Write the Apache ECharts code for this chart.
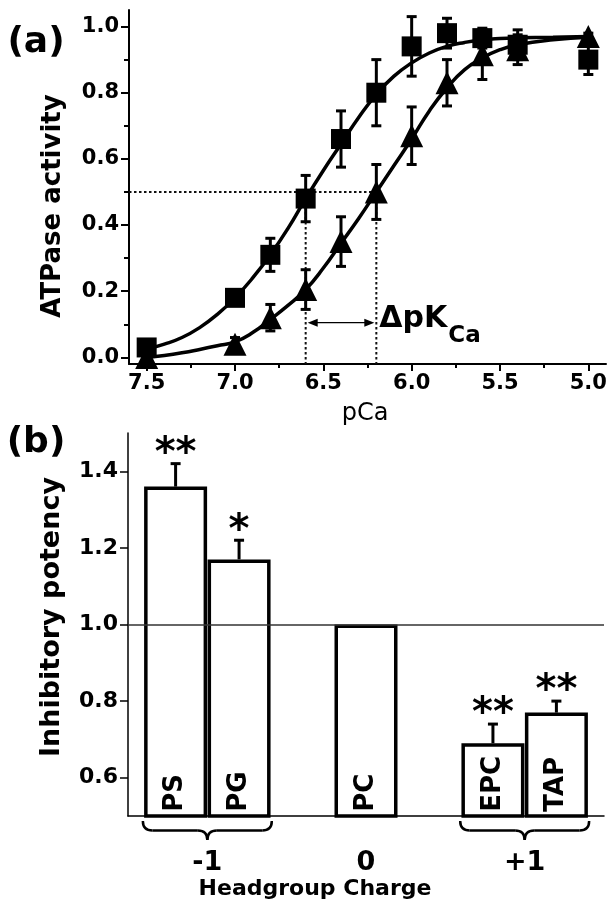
<!DOCTYPE html>
<html><head><meta charset="utf-8">
<script src="https://cdn.jsdelivr.net/npm/echarts@6/dist/echarts.min.js"></script>
<style>html,body{margin:0;padding:0;background:#fff}#c{width:614px;height:916px}</style>
</head><body><div id="c"></div>
<script>
// ---------- Panel (a) data ----------
const pCa = [7.5, 7.0, 6.8, 6.6, 6.4, 6.2, 6.0, 5.8, 5.6, 5.4, 5.0];
const ctrlMean = [0.03, 0.18, 0.31, 0.48, 0.66, 0.80, 0.94, 0.98, 0.965, 0.945, 0.90];
const ctrlErr  = [0.02, 0.02, 0.05, 0.07, 0.085, 0.10, 0.09, 0.045, 0.03, 0.045, 0.045];
const lipMean  = [0.00, 0.04, 0.12, 0.205, 0.35, 0.50, 0.67, 0.83, 0.915, 0.93, 0.97];
const lipErr   = [0.01, 0.02, 0.04, 0.06, 0.075, 0.083, 0.087, 0.07, 0.075, 0.045, 0.01];
const fitPCa  = [7.5,7.4,7.3,7.2,7.1,7.0,6.9,6.8,6.7,6.6,6.5,6.4,6.3,6.2,6.1,6.0,5.9,5.8,5.7,5.6,5.5,5.4,5.2,5.0];
const ctrlFit = [0.025,0.04,0.06,0.09,0.13,0.18,0.24,0.31,0.39,0.48,0.565,0.645,0.725,0.795,0.85,0.89,0.92,0.94,0.952,0.96,0.964,0.966,0.968,0.97];
const lipFit  = [0.0,0.006,0.014,0.024,0.035,0.047,0.075,0.115,0.157,0.205,0.27,0.345,0.42,0.50,0.58,0.66,0.745,0.815,0.87,0.905,0.93,0.945,0.96,0.968];
const halfPCa = [6.6, 6.2];
const halfLevel = 0.5;
const arrowLevel = 0.105;
const xTicksA = [7.5, 7.0, 6.5, 6.0, 5.5, 5.0];
const xMinorA = [7.25, 6.75, 6.25, 5.75, 5.25];
const yTicksA = [0, 0.2, 0.4, 0.6, 0.8, 1.0];
const yMinorA = [0.1, 0.3, 0.5, 0.7, 0.9];
const xRangeA = [4.9, 7.6];
const yRangeA = [-0.02, 1.05];

// ---------- Panel (b) data ----------
const lipids = ['PS', 'PG', 'PC', 'EPC', 'TAP'];
const lipidSlot = [0, 1, 3, 5, 6];
const potency = [1.36, 1.17, 1.00, 0.69, 0.77];
const potencyErr = [0.06, 0.05, 0, 0.05, 0.03];
const signif = ['**', '*', '', '**', '**'];
const chargeLabels = ['-1', '0', '+1'];
const chargeFrom = [0, 3, 5];
const chargeTo = [1, 3, 6];
const yTicksB = [0.6, 0.8, 1.0, 1.2, 1.4];
const xRangeB = [-0.75, 6.75];
const yRangeB = [0.5, 1.5];

const FF = '"DejaVu Sans"';
const chart = echarts.init(document.getElementById('c'), null, {renderer: 'canvas'});

function errRender(params, api) {
  const x = api.value(0), lo = api.value(1), hi = api.value(2);
  const p1 = api.coord([x, lo]), p2 = api.coord([x, hi]);
  const cap = 5, st = {stroke: '#000', lineWidth: 3};
  return {type: 'group', children: [
    {type: 'line', shape: {x1: p1[0], y1: p1[1], x2: p2[0], y2: p2[1]}, style: st},
    {type: 'line', shape: {x1: p1[0]-cap, y1: p1[1], x2: p1[0]+cap, y2: p1[1]}, style: st},
    {type: 'line', shape: {x1: p2[0]-cap, y1: p2[1], x2: p2[0]+cap, y2: p2[1]}, style: st}
  ]};
}

const mctx = document.createElement('canvas').getContext('2d');

function annoRender(params, api) {
  const xa = halfPCa[0], xb = halfPCa[1];
  const pL = api.coord([xRangeA[1], halfLevel]);
  const pA = api.coord([xa, halfLevel]);
  const pB = api.coord([xb, halfLevel]);
  const aBot = api.coord([xa, yRangeA[0]]);
  const bBot = api.coord([xb, yRangeA[0]]);
  const ay = api.coord([xa, arrowLevel])[1];
  const dot = {stroke: '#111', lineWidth: 2, lineDash: [2.5, 2.5]};
  const thin = {stroke: '#000', lineWidth: 1.3};
  const ax1 = pA[0] + 2, ax2 = pB[0] - 2;
  const bigFont = 'bold 30px ' + FF, subFont = 'bold 23px ' + FF;
  mctx.font = bigFont;
  const w = mctx.measureText('\u0394pK').width;
  const tx = pB[0] + 3;
  return {type: 'group', children: [
    {type: 'line', shape: {x1: pL[0], y1: pL[1], x2: pB[0], y2: pB[1]}, style: dot},
    {type: 'line', shape: {x1: pA[0], y1: pA[1], x2: aBot[0], y2: aBot[1]}, style: dot},
    {type: 'line', shape: {x1: pB[0], y1: pB[1], x2: bBot[0], y2: bBot[1]}, style: dot},
    {type: 'line', shape: {x1: ax1 + 4, y1: ay, x2: ax2 - 4, y2: ay}, style: thin},
    {type: 'polygon', shape: {points: [[ax1, ay], [ax1 + 10, ay - 4], [ax1 + 10, ay + 4]]}, style: {fill: '#000'}},
    {type: 'polygon', shape: {points: [[ax2, ay], [ax2 - 10, ay - 4], [ax2 - 10, ay + 4]]}, style: {fill: '#000'}},
    {type: 'text', style: {text: '\u0394pK', x: tx, y: ay - 3, font: bigFont, fill: '#000',
      align: 'left', verticalAlign: 'middle', textAlign: 'left', textVerticalAlign: 'middle'}},
    {type: 'text', style: {text: 'Ca', x: tx + w + 1, y: ay + 13, font: subFont, fill: '#000',
      align: 'left', verticalAlign: 'middle', textAlign: 'left', textVerticalAlign: 'middle'}}
  ]};
}

function barErrRender(params, api) {
  const i = params.dataIndex;
  const x = api.value(0), top = api.value(1), hi = api.value(2);
  const children = [];
  const p1 = api.coord([x, top]), p2 = api.coord([x, hi]);
  const st = {stroke: '#000', lineWidth: 3};
  if (hi > top) {
    children.push({type: 'line', shape: {x1: p1[0], y1: p1[1], x2: p2[0], y2: p2[1]}, style: st});
    children.push({type: 'line', shape: {x1: p2[0]-5, y1: p2[1], x2: p2[0]+5, y2: p2[1]}, style: st});
  }
  if (signif[i]) {
    children.push({type: 'text', style: {text: signif[i], x: p2[0], y: p2[1] - 9, font: 'bold 40px ' + FF,
      fill: '#000', align: 'center', verticalAlign: 'middle', textAlign: 'center', textVerticalAlign: 'middle'}});
  }
  return {type: 'group', children};
}

function braceRender(params, api) {
  const i = params.dataIndex;
  const from = api.value(0), to = api.value(1);
  const half = api.size([1, 0])[0] / 2;
  const base = api.coord([from, yRangeB[0]])[1];
  const xl = api.coord([from, yRangeB[0]])[0] - half - 1;
  const xr = api.coord([to, yRangeB[0]])[0] + half + 1;
  const xm = (xl + xr) / 2;
  const yt = base + 5, r = 9.5;
  const st = {stroke: '#000', lineWidth: 2.5, fill: null};
  const children = [];
  if (to > from) {
    children.push(
      {type: 'bezierCurve', shape: {x1: xl, y1: yt, cpx1: xl, cpy1: yt + r, x2: xl + r, y2: yt + r}, style: st},
      {type: 'line', shape: {x1: xl + r, y1: yt + r, x2: xm - r, y2: yt + r}, style: st},
      {type: 'bezierCurve', shape: {x1: xm - r, y1: yt + r, cpx1: xm, cpy1: yt + r, x2: xm, y2: yt + 2*r}, style: st},
      {type: 'bezierCurve', shape: {x1: xm + r, y1: yt + r, cpx1: xm, cpy1: yt + r, x2: xm, y2: yt + 2*r}, style: st},
      {type: 'line', shape: {x1: xm + r, y1: yt + r, x2: xr - r, y2: yt + r}, style: st},
      {type: 'bezierCurve', shape: {x1: xr, y1: yt, cpx1: xr, cpy1: yt + r, x2: xr - r, y2: yt + r}, style: st}
    );
  }
  children.push({type: 'text', style: {text: chargeLabels[i], x: xm, y: base + 47, font: 'bold 27px ' + FF,
    fill: '#000', align: 'center', verticalAlign: 'middle', textAlign: 'center', textVerticalAlign: 'middle'}});
  return {type: 'group', children};
}

const labelStyle = {color: '#000', fontFamily: FF, fontWeight: 'bold', fontSize: 21};

const option = {
  animation: false,
  backgroundColor: '#fff',
  grid: [
    {left: 129, right: 8, top: 10, height: 354},
    {left: 128, right: 10, top: 433, height: 383}
  ],
  xAxis: [
    {gridIndex: 0, type: 'value', position: 'bottom', min: xRangeA[0], max: xRangeA[1], inverse: true,
     axisLine: {onZero: false, lineStyle: {color: '#000', width: 2}},
     axisTick: {customValues: xTicksA, length: 7, lineStyle: {color: '#000', width: 2}},
     axisLabel: Object.assign({customValues: xTicksA, margin: 9, formatter: v => v.toFixed(1)}, labelStyle),
     splitLine: {show: false}},
    {gridIndex: 0, type: 'value', position: 'bottom', min: xRangeA[0], max: xRangeA[1], inverse: true,
     axisLine: {show: false, onZero: false}, axisLabel: {show: false},
     axisTick: {customValues: xMinorA, length: 4, lineStyle: {color: '#000', width: 2}},
     splitLine: {show: false}},
    {gridIndex: 1, type: 'value', position: 'bottom', min: xRangeB[0], max: xRangeB[1],
     axisLine: {onZero: false, lineStyle: {color: '#000', width: 1.5}},
     axisTick: {show: false}, axisLabel: {show: false}, splitLine: {show: false}}
  ],
  yAxis: [
    {gridIndex: 0, type: 'value', position: 'left', min: yRangeA[0], max: yRangeA[1],
     axisLine: {show: true, onZero: false, lineStyle: {color: '#000', width: 2}},
     axisTick: {show: true, customValues: yTicksA, length: 8, lineStyle: {color: '#000', width: 2}},
     axisLabel: Object.assign({customValues: yTicksA, margin: 10, formatter: v => v.toFixed(1)}, labelStyle),
     splitLine: {show: false}},
    {gridIndex: 0, type: 'value', position: 'left', min: yRangeA[0], max: yRangeA[1],
     axisLine: {show: false, onZero: false}, axisLabel: {show: false},
     axisTick: {show: true, customValues: yMinorA, length: 5, lineStyle: {color: '#000', width: 2}},
     splitLine: {show: false}},
    {gridIndex: 1, type: 'value', position: 'left', min: yRangeB[0], max: yRangeB[1],
     axisLine: {show: true, onZero: false, lineStyle: {color: '#000', width: 1.5}},
     axisTick: {show: true, customValues: yTicksB, length: 8, lineStyle: {color: '#000', width: 1.5}},
     axisLabel: Object.assign({customValues: yTicksB, margin: 10, formatter: v => v.toFixed(1)}, labelStyle, {fontSize: 22}),
     splitLine: {show: false}}
  ],
  graphic: [
    {type: 'text', x: 36, y: 43, style: {text: '(a)', font: 'bold 36px ' + FF, fill: '#000', align: 'center', verticalAlign: 'middle', textAlign: 'center', textVerticalAlign: 'middle'}},
    {type: 'text', x: 36, y: 443, style: {text: '(b)', font: 'bold 36px ' + FF, fill: '#000', align: 'center', verticalAlign: 'middle', textAlign: 'center', textVerticalAlign: 'middle'}},
    {type: 'text', x: 53, y: 206, rotation: Math.PI / 2, style: {text: 'ATPase activity', font: 'bold 26px ' + FF, fill: '#000', align: 'center', verticalAlign: 'middle', textAlign: 'center', textVerticalAlign: 'middle'}},
    {type: 'text', x: 52, y: 617, rotation: Math.PI / 2, style: {text: 'Inhibitory potency', font: 'bold 27px ' + FF, fill: '#000', align: 'center', verticalAlign: 'middle', textAlign: 'center', textVerticalAlign: 'middle'}},
    {type: 'text', x: 365, y: 414, style: {text: 'pCa', font: '24px ' + FF, fill: '#000', align: 'center', verticalAlign: 'middle', textAlign: 'center', textVerticalAlign: 'middle'}},
    {type: 'text', x: 315, y: 889, style: {text: 'Headgroup Charge', font: 'bold 22px ' + FF, fill: '#000', align: 'center', verticalAlign: 'middle', textAlign: 'center', textVerticalAlign: 'middle'}}
  ],
  series: [
    {type: 'custom', name: 'anno', xAxisIndex: 0, yAxisIndex: 0, z: 1,
     data: [[halfPCa[0], halfPCa[1], halfLevel]], renderItem: annoRender, silent: true},
    {type: 'line', name: 'ctrlFit', xAxisIndex: 0, yAxisIndex: 0, z: 2, showSymbol: false, smooth: true,
     data: fitPCa.map((x, i) => [x, ctrlFit[i]]), lineStyle: {color: '#000', width: 3.5}},
    {type: 'line', name: 'lipFit', xAxisIndex: 0, yAxisIndex: 0, z: 2, showSymbol: false, smooth: true,
     data: fitPCa.map((x, i) => [x, lipFit[i]]), lineStyle: {color: '#000', width: 3.5}},
    {type: 'custom', name: 'ctrlErr', xAxisIndex: 0, yAxisIndex: 0, z: 3, renderItem: errRender,
     encode: {x: 0, y: [1, 2]},
     data: pCa.map((x, i) => [x, ctrlMean[i] - ctrlErr[i], ctrlMean[i] + ctrlErr[i]])},
    {type: 'custom', name: 'lipErr', xAxisIndex: 0, yAxisIndex: 0, z: 3, renderItem: errRender,
     encode: {x: 0, y: [1, 2]},
     data: pCa.map((x, i) => [x, lipMean[i] - lipErr[i], lipMean[i] + lipErr[i]])},
    {type: 'scatter', name: 'control', xAxisIndex: 0, yAxisIndex: 0, z: 4, symbol: 'rect', symbolSize: 20,
     itemStyle: {color: '#000', opacity: 1}, data: pCa.map((x, i) => [x, ctrlMean[i]])},
    {type: 'scatter', name: 'lipid', xAxisIndex: 0, yAxisIndex: 0, z: 4, symbol: 'triangle', symbolSize: 23,
     itemStyle: {color: '#000', opacity: 1}, data: pCa.map((x, i) => [x, lipMean[i]])},

    {type: 'bar', name: 'potency', xAxisIndex: 2, yAxisIndex: 2, barWidth: 63, z: 2,
     data: lipidSlot.map((s, i) => [s, potency[i]]),
     itemStyle: {color: '#fff', borderColor: '#000', borderWidth: 3.5},
     label: {show: true, position: 'insideBottom', rotate: 90, align: 'left', verticalAlign: 'middle', distance: 6,
       formatter: p => lipids[p.dataIndex], color: '#000', fontFamily: FF, fontWeight: 'bold', fontSize: 26},
     markLine: {silent: true, symbol: 'none', label: {show: false},
       lineStyle: {color: '#333', width: 1.5, type: 'solid'}, data: [{yAxis: 1}]}},
    {type: 'custom', name: 'potErr', xAxisIndex: 2, yAxisIndex: 2, z: 5, renderItem: barErrRender,
     encode: {x: 0, y: [1, 2]},
     data: lipidSlot.map((s, i) => [s, potency[i], potency[i] + potencyErr[i]])},
    {type: 'custom', name: 'braces', xAxisIndex: 2, yAxisIndex: 2, z: 5, renderItem: braceRender, clip: false,
     encode: {x: [0, 1]},
     data: chargeFrom.map((f, i) => [f, chargeTo[i]])}
  ]
};
chart.setOption(option);
</script></body></html>
